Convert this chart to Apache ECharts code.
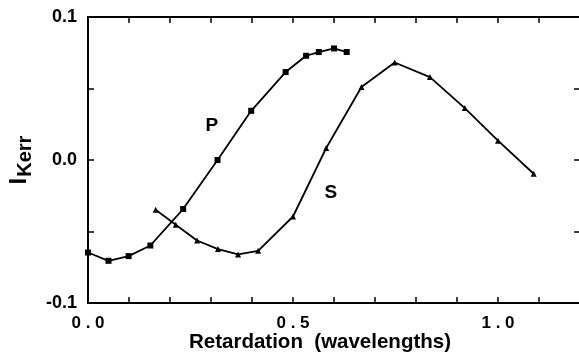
<!DOCTYPE html>
<html>
<head>
<meta charset="utf-8">
<script src="https://cdn.jsdelivr.net/npm/echarts@6/dist/echarts.min.js"></script>
<style>
  html, body { margin: 0; padding: 0; background: #fff; }
  #chart { width: 579px; height: 360px; }
</style>
</head>
<body>
<div id="chart"></div>
<script>
// P 曲线 (方块)
const pX = [0, 0.05, 0.099, 0.152, 0.232, 0.316, 0.398, 0.482, 0.532, 0.563, 0.600, 0.631]
const pY = [-0.0647, -0.0705, -0.0672, -0.0598, -0.0343, 0.0, 0.0344, 0.0615, 0.0729, 0.0755, 0.078, 0.0755]
// S 曲线 (三角)
const sX = [0.165, 0.214, 0.266, 0.317, 0.366, 0.415, 0.50, 0.581, 0.667, 0.748, 0.834, 0.919, 1.0, 1.087]
const sY = [-0.0348, -0.0453, -0.0563, -0.0623, -0.066, -0.0635, -0.0395, 0.0084, 0.051, 0.0682, 0.058, 0.0363, 0.0135, -0.0096]
// 曲线标注位置
const pLabel = [0.302, 0.0236]
const sLabel = [0.592, -0.0226]
// 刻度标签
const xTickLabels = [0, 0.5, 1.0]
const yTickLabels = [-0.1, 0, 0.1]

const font = 'Liberation Sans, Arial, Helvetica, sans-serif'
const near = (a, b) => Math.abs(a - b) < 1e-6

const chart = echarts.init(document.getElementById('chart'))

const tickStyle = { show: true, inside: true, length: 6, lineStyle: { color: '#000', width: 1.5 } }
const lineStyle = { color: '#000', width: 2 }

const option = {
  animation: false,
  backgroundColor: '#fff',
  // 固定绘图区, 不让标签挤压
  grid: { left: 88, top: 17, right: -1, bottom: 57, outerBoundsMode: 'none', containLabel: false },
  xAxis: [{
    type: 'value', min: 0, max: 1.2, interval: 0.1,
    axisLine: { show: true, onZero: false, lineStyle },
    axisTick: tickStyle,
    splitLine: { show: false },
    axisLabel: {
      margin: 12, color: '#000', fontFamily: font, fontWeight: 'bold', fontSize: 17,
      formatter: v => xTickLabels.some(t => near(t, v)) ? v.toFixed(1).split('').join(' ') : ''
    },
    name: 'Retardation  (wavelengths)',
    nameLocation: 'middle', nameGap: 29, nameMoveOverlap: false,
    nameTextStyle: { color: '#000', fontFamily: font, fontWeight: 'bold', fontSize: 20.5, padding: [0, 28, 0, 0] }
  }, {
    type: 'value', position: 'top', min: 0, max: 1.2, interval: 0.1,
    axisLine: { show: true, onZero: false, lineStyle },
    axisTick: tickStyle,
    splitLine: { show: false },
    axisLabel: { show: false }
  }],
  yAxis: [{
    type: 'value', min: -0.1, max: 0.1, interval: 0.05,
    axisLine: { show: true, onZero: false, lineStyle },
    axisTick: tickStyle,
    splitLine: { show: false },
    axisLabel: {
      margin: 11, color: '#000', fontFamily: font, fontWeight: 'bold', fontSize: 18,
      formatter: v => {
        const t = yTickLabels.find(t => near(t, v))
        return t === undefined ? '' : t.toFixed(1)
      }
    },
    name: '{i|I}{k|Kerr}',
    nameLocation: 'middle', nameGap: 52, nameRotate: 90,
    nameTextStyle: {
      color: '#000', fontFamily: font, fontWeight: 'bold',
      rich: {
        i: { fontSize: 24, fontFamily: font, fontWeight: 'bold', color: '#000', verticalAlign: 'bottom', padding: [0, 1, 4, 0] },
        k: { fontSize: 20, fontFamily: font, fontWeight: 'bold', color: '#000', verticalAlign: 'bottom' }
      }
    }
  }, {
    type: 'value', position: 'right', min: -0.1, max: 0.1, interval: 0.05,
    axisLine: { show: true, onZero: false, lineStyle },
    axisTick: tickStyle,
    splitLine: { show: false },
    axisLabel: { show: false }
  }],
  series: [{
    name: 'P', type: 'line',
    data: pX.map((x, i) => [x, pY[i]]),
    symbol: 'rect', symbolSize: 6,
    lineStyle: { color: '#000', width: 1.8 },
    itemStyle: { color: '#000' },
    markPoint: {
      symbol: 'circle', symbolSize: 0,
      label: { show: true, position: 'inside', formatter: 'P', color: '#000', fontFamily: font, fontWeight: 'bold', fontSize: 19 },
      data: [{ coord: pLabel }]
    }
  }, {
    name: 'S', type: 'line',
    data: sX.map((x, i) => [x, sY[i]]),
    symbol: 'triangle', symbolSize: 6,
    lineStyle: { color: '#000', width: 1.8 },
    itemStyle: { color: '#000' },
    markPoint: {
      symbol: 'circle', symbolSize: 0,
      label: { show: true, position: 'inside', formatter: 'S', color: '#000', fontFamily: font, fontWeight: 'bold', fontSize: 19 },
      data: [{ coord: sLabel }]
    }
  }]
}
chart.setOption(option)
</script>
</body>
</html>
